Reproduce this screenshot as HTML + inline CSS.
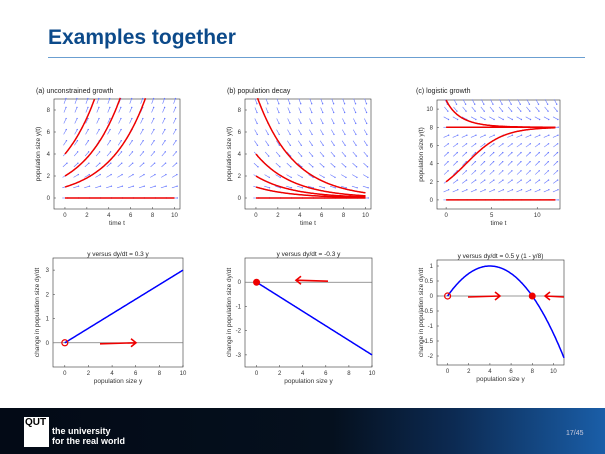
<!DOCTYPE html><html><head><style>
body{margin:0;width:605px;height:454px;overflow:hidden;background:#fff;font-family:"Liberation Sans",sans-serif}
#t{position:absolute;left:48px;top:26px;font-size:21px;font-weight:bold;color:#0c4a8a}
#hr{position:absolute;left:48px;top:57px;width:537px;height:1px;background:#6b9fd1}
#f{position:absolute;left:0;top:408px;width:605px;height:46px;background:linear-gradient(90deg,#030a16 0%,#05101e 55%,#0c2a52 75%,#1a5ea8 100%)}
</style></head><body>
<div id="t">Examples together</div><div id="hr"></div>
<svg id="s" width="605" height="454" style="position:absolute;left:0;top:0" font-family="Liberation Sans,sans-serif"></svg>
<div id="f"><div style="position:absolute;left:24px;top:9px;width:24px;height:30px;background:#fff;color:#000;font:bold 10px 'Liberation Sans';padding-left:1px">QUT</div>
<div style="position:absolute;left:52px;top:18px;color:#fff;font:bold 9px/10px 'Liberation Sans'">the university<br>for the real world</div>
<div style="position:absolute;left:566px;top:22px;color:#ccd;font-size:7px">17/45</div></div>
<script>
const S=document.getElementById('s');let h='';
function ax(o){const X=x=>o.l+(x-o.x0)*(o.r-o.l)/(o.x1-o.x0),Y=y=>o.b-(y-o.y0)*(o.b-o.t)/(o.y1-o.y0);o.X=X;o.Y=Y;
h+=`<rect x="${o.l}" y="${o.t}" width="${o.r-o.l}" height="${o.b-o.t}" fill="none" stroke="#333" stroke-width="0.6"/>`;
o.xt.forEach(v=>{h+=`<text x="${X(v)}" y="${o.b+8}" font-size="6" text-anchor="middle" fill="#333">${v}</text><line x1="${X(v)}" x2="${X(v)}" y1="${o.b}" y2="${o.b-2}" stroke="#333" stroke-width=".5"/>`});
o.yt.forEach(v=>{h+=`<text x="${o.l-4}" y="${Y(v)+2}" font-size="6" text-anchor="end" fill="#333">${v}</text><line x1="${o.l}" x2="${o.l+2}" y1="${Y(v)}" y2="${Y(v)}" stroke="#333" stroke-width=".5"/>`});
h+=`<text x="${(o.l+o.r)/2}" y="${o.b+16}" font-size="6.5" text-anchor="middle" fill="#333">${o.xl}</text>`;
h+=`<text transform="translate(${o.l-14},${(o.t+o.b)/2}) rotate(-90)" font-size="6.5" text-anchor="middle" fill="#333">${o.yl}</text>`;
if(o.ti)h+=`<text x="${(o.l+o.r)/2}" y="${o.t-2}" font-size="6.5" text-anchor="middle" fill="#222">${o.ti}</text>`;return o}
function quiver(o,f,xs,ys){xs.forEach(x=>ys.forEach(y=>{let dx=(o.X(1)-o.X(0)),dy=-(f(y))*(o.Y(0)-o.Y(1));let L=Math.hypot(dx,dy);dx=dx/L*5.5;dy=dy/L*5.5;const x0=o.X(x)-dx/2,y0=o.Y(y)-dy/2;
h+=`<line x1="${x0}" y1="${y0}" x2="${x0+dx}" y2="${y0+dy}" stroke="#6677ff" stroke-width=".6"/><circle cx="${x0+dx}" cy="${y0+dy}" r=".7" fill="#6677ff"/>`}))}
function curve(o,fn,a,b,c,w){let p='';for(let i=0;i<=200;i++){const x=a+(b-a)*i/200,y=fn(x);if(y>o.y1+0.1||y<o.y0-0.1)continue;p+=(p?'L':'M')+o.X(x).toFixed(1)+','+o.Y(y).toFixed(1)}h+=`<path d="${p}" fill="none" stroke="${c}" stroke-width="${w}"/>`}
const R=[...Array(11).keys()];
let a=ax({l:54,r:180,t:99,b:209,x0:-1,x1:10.5,y0:-1,y1:9,xt:[0,2,4,6,8,10],yt:[0,2,4,6,8],xl:'time t',yl:'population size y(t)'});
quiver(a,y=>0.3*y,R,[0,1,2,3,4,5,6,7,8,8.8]);
[0,1,2,4].forEach(y0=>curve(a,t=>y0*Math.exp(.3*t),0,10,'#e00',1.5));
let b=ax({l:245,r:371,t:99,b:209,x0:-1,x1:10.5,y0:-1,y1:9,xt:[0,2,4,6,8,10],yt:[0,2,4,6,8],xl:'time t',yl:'population size y(t)'});
quiver(b,y=>-0.3*y,R,[0,1,2,3,4,5,6,7,8,8.8]);
[0,1,2,4,9.5].forEach(y0=>curve(b,t=>y0*Math.exp(-.3*t),0,10,'#e00',1.5));
let c=ax({l:437,r:560,t:100,b:209,x0:-1,x1:12.5,y0:-1,y1:11,xt:[0,5,10],yt:[0,2,4,6,8,10],xl:'time t',yl:'population size y(t)'});
quiver(c,y=>0.5*y*(1-y/8),[0,1,2,3,4,5,6,7,8,9,10,11,12],[0,1,2,3,4,5,6,7,8,9,10,10.8]);
const lg=y0=>t=>8/(1+(8/y0-1)*Math.exp(-.5*t));
curve(c,t=>0,0,12,'#e00',1.5);curve(c,t=>8,0,12,'#e00',1.5);curve(c,lg(2),0,12,'#e00',1.5);curve(c,lg(11),0,12,'#e00',1.5);
h+=`<text x="36" y="93" font-size="7" fill="#222">(a) unconstrained growth</text><text x="227" y="93" font-size="7" fill="#222">(b) population decay</text><text x="416" y="93" font-size="7" fill="#222">(c) logistic growth</text>`;
function zero(o){h+=`<line x1="${o.l}" x2="${o.r}" y1="${o.Y(0)}" y2="${o.Y(0)}" stroke="#777" stroke-width=".8"/>`}
function arr(x1,x2,y){const d=x2>x1?-1:1;h+=`<path d="M${x1},${y+1}L${x2},${y}M${x2+d*5},${y-4}L${x2},${y}L${x2+d*5},${y+4}" fill="none" stroke="#e00" stroke-width="1.6"/>`}
let d=ax({l:53,r:183,t:258,b:367,x0:-1,x1:10,y0:-1,y1:3.5,xt:[0,2,4,6,8,10],yt:[0,1,2,3],xl:'population size y',yl:'change in population size dy/dt',ti:'y versus dy/dt = 0.3 y'});
zero(d);curve(d,y=>.3*y,0,10,'#00f',1.5);h+=`<circle cx="${d.X(0)}" cy="${d.Y(0)}" r="3" fill="none" stroke="#e00" stroke-width="1.2"/>`;arr(100,136,d.Y(0));
let e=ax({l:245,r:372,t:258,b:367,x0:-1,x1:10,y0:-3.5,y1:1,xt:[0,2,4,6,8,10],yt:[0,-1,-2,-3],xl:'population size y',yl:'change in population size dy/dt',ti:'y versus dy/dt = -0.3 y'});
zero(e);curve(e,y=>-.3*y,0,10,'#00f',1.5);h+=`<circle cx="${e.X(0)}" cy="${e.Y(0)}" r="3.5" fill="#e00"/>`;arr(328,296,e.Y(0)-2);
let g=ax({l:437,r:564,t:260,b:365,x0:-1,x1:11,y0:-2.3,y1:1.2,xt:[0,2,4,6,8,10],yt:[1,0.5,0,-0.5,-1,-1.5,-2],xl:'population size y',yl:'change in population size dy/dt',ti:'y versus dy/dt = 0.5 y (1 - y/8)'});
zero(g);curve(g,y=>.5*y*(1-y/8),0,11,'#00f',1.5);h+=`<circle cx="${g.X(0)}" cy="${g.Y(0)}" r="3" fill="none" stroke="#e00" stroke-width="1.2"/><circle cx="${g.X(8)}" cy="${g.Y(0)}" r="3.5" fill="#e00"/>`;arr(468,500,g.Y(0));arr(564,545,g.Y(0));
S.innerHTML=h;
</script></body></html>
